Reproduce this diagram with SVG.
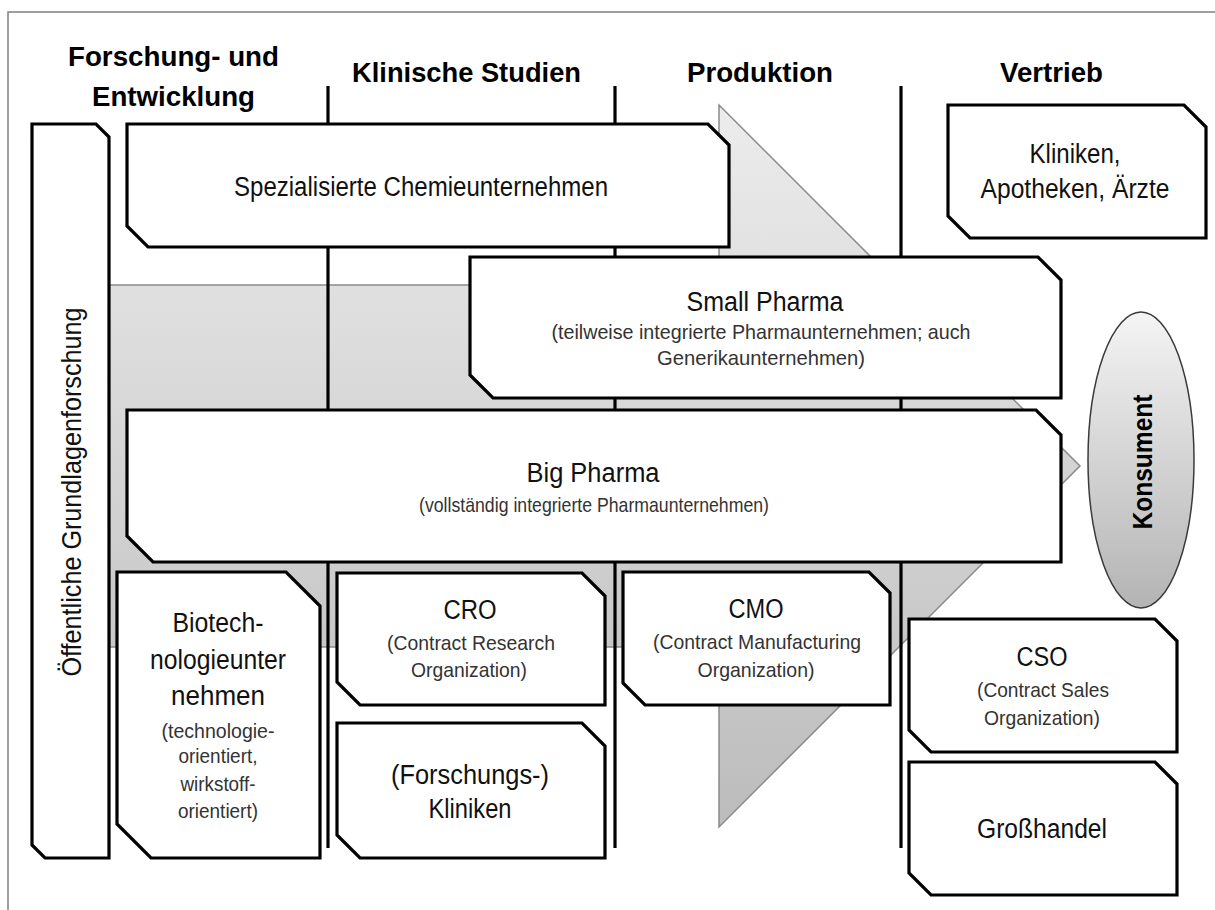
<svg xmlns="http://www.w3.org/2000/svg" width="1215" height="910" viewBox="0 0 1215 910">
<defs>
<linearGradient id="arrowGrad" gradientUnits="userSpaceOnUse" x1="0" y1="105" x2="0" y2="827">
<stop offset="0" stop-color="#ececec"/>
<stop offset="1" stop-color="#bcbcbc"/>
</linearGradient>
<linearGradient id="ellGrad" x1="0" y1="0" x2="0" y2="1">
<stop offset="0" stop-color="#f4f4f4"/>
<stop offset="1" stop-color="#b4b4b4"/>
</linearGradient>
<style>
.box{fill:#fff;stroke:#000;stroke-width:3.2;stroke-linejoin:miter}
.div{stroke:#000;stroke-width:3.2;fill:none}
.hd{font-family:"Liberation Sans",Arial,sans-serif;font-weight:bold;font-size:28px;fill:#000;text-anchor:middle}
.lb{font-family:"Liberation Sans",Arial,sans-serif;font-size:27px;fill:#111;text-anchor:middle}
.sb{font-family:"Liberation Sans",Arial,sans-serif;font-size:21px;fill:#333;text-anchor:middle}
</style>
</defs>
<rect x="0" y="0" width="1215" height="910" fill="#fff"/>
<rect x="8" y="12" width="1220" height="920" fill="none" stroke="#808080" stroke-width="1.5"/>

<g id="arrow">
<path d="M100,285 H719 V105 L1080,466 L719,827 V647 H100 Z" fill="url(#arrowGrad)" stroke="#8a8a8a" stroke-width="1.5"/>
</g>

<g id="connectors">
<line class="div" x1="328" y1="86" x2="328" y2="848"/>
<line class="div" x1="615" y1="86" x2="615" y2="848"/>
<line class="div" x1="901" y1="86" x2="901" y2="848"/>
</g>

<g id="headers">
<text class="hd" x="173.5" y="66" textLength="211" lengthAdjust="spacingAndGlyphs">Forschung- und</text>
<text class="hd" x="173.5" y="106" textLength="163" lengthAdjust="spacingAndGlyphs">Entwicklung</text>
<text class="hd" x="466.5" y="82" textLength="229" lengthAdjust="spacingAndGlyphs">Klinische Studien</text>
<text class="hd" x="760" y="82" textLength="146" lengthAdjust="spacingAndGlyphs">Produktion</text>
<text class="hd" x="1051.5" y="82" textLength="103" lengthAdjust="spacingAndGlyphs">Vertrieb</text>
</g>

<g id="oeffentliche">
<path class="box" d="M32,124 H96 L109,137 V858 H45 L32,845 Z"/>
<text class="lb" transform="translate(81,492) rotate(-90)" x="0" y="0" textLength="369" lengthAdjust="spacingAndGlyphs" style="font-size:28px">Öffentliche Grundlagenforschung</text>
</g>

<g id="spezialisierte">
<path class="box" d="M127,124 H708 L729,145 V247 H148 L127,226 Z"/>
<text class="lb" x="421" y="196" textLength="374" lengthAdjust="spacingAndGlyphs">Spezialisierte Chemieunternehmen</text>
</g>

<g id="kliniken">
<path class="box" d="M948,105 H1184 L1206,127 V238 H970 L948,216 Z"/>
<text class="lb" x="1075" y="163" textLength="91" lengthAdjust="spacingAndGlyphs">Kliniken,</text>
<text class="lb" x="1075" y="198" textLength="189" lengthAdjust="spacingAndGlyphs">Apotheken, Ärzte</text>
</g>

<g id="small-pharma">
<path class="box" d="M470,257 H1038 L1061,280 V398 H493 L470,375 Z"/>
<text class="lb" x="765" y="311" textLength="157" lengthAdjust="spacingAndGlyphs">Small Pharma</text>
<text class="sb" x="761" y="339" textLength="419" lengthAdjust="spacingAndGlyphs">(teilweise integrierte Pharmaunternehmen; auch</text>
<text class="sb" x="761" y="365" textLength="208" lengthAdjust="spacingAndGlyphs">Generikaunternehmen)</text>
</g>

<g id="big-pharma">
<path class="box" d="M127,410 H1036 L1061,435 V562 H153 L127,536 Z"/>
<text class="lb" x="593" y="482" textLength="133" lengthAdjust="spacingAndGlyphs">Big Pharma</text>
<text class="sb" x="594" y="512" textLength="350" lengthAdjust="spacingAndGlyphs">(vollständig integrierte Pharmaunternehmen)</text>
</g>

<g id="biotech">
<path class="box" d="M117,572 H286 L320,606 V858 H151 L117,824 Z"/>
<text class="lb" x="218" y="632" textLength="91" lengthAdjust="spacingAndGlyphs">Biotech-</text>
<text class="lb" x="218" y="669" textLength="136" lengthAdjust="spacingAndGlyphs">nologieunter</text>
<text class="lb" x="218" y="705" textLength="94" lengthAdjust="spacingAndGlyphs">nehmen</text>
<text class="sb" x="218" y="738" textLength="113" lengthAdjust="spacingAndGlyphs">(technologie-</text>
<text class="sb" x="218" y="763" textLength="79" lengthAdjust="spacingAndGlyphs">orientiert,</text>
<text class="sb" x="218" y="791" textLength="75" lengthAdjust="spacingAndGlyphs">wirkstoff-</text>
<text class="sb" x="218" y="818" textLength="80" lengthAdjust="spacingAndGlyphs">orientiert)</text>
</g>

<g id="cro">
<path class="box" d="M337,573 H582 L605,596 V705 H360 L337,682 Z"/>
<text class="lb" x="470" y="619" textLength="53" lengthAdjust="spacingAndGlyphs">CRO</text>
<text class="sb" x="471" y="650" textLength="168" lengthAdjust="spacingAndGlyphs">(Contract Research</text>
<text class="sb" x="469" y="677" textLength="116" lengthAdjust="spacingAndGlyphs">Organization)</text>
</g>

<g id="forschungskliniken">
<path class="box" d="M337,723 H582 L605,746 V858 H360 L337,835 Z"/>
<text class="lb" x="470" y="784" textLength="158" lengthAdjust="spacingAndGlyphs">(Forschungs-)</text>
<text class="lb" x="470" y="818" textLength="83" lengthAdjust="spacingAndGlyphs">Kliniken</text>
</g>

<g id="cmo">
<path class="box" d="M623,572 H869 L890,593 V705 H645 L623,683 Z"/>
<text class="lb" x="756" y="618" textLength="55" lengthAdjust="spacingAndGlyphs">CMO</text>
<text class="sb" x="757" y="649" textLength="208" lengthAdjust="spacingAndGlyphs">(Contract Manufacturing</text>
<text class="sb" x="756" y="677" textLength="117" lengthAdjust="spacingAndGlyphs">Organization)</text>
</g>

<g id="cso">
<path class="box" d="M909,619 H1155 L1177,641 V752 H931 L909,730 Z"/>
<text class="lb" x="1042" y="666" textLength="51" lengthAdjust="spacingAndGlyphs">CSO</text>
<text class="sb" x="1043" y="697" textLength="132" lengthAdjust="spacingAndGlyphs">(Contract Sales</text>
<text class="sb" x="1042" y="725" textLength="116" lengthAdjust="spacingAndGlyphs">Organization)</text>
</g>

<g id="grosshandel">
<path class="box" d="M909,762 H1155 L1177,784 V895 H931 L909,873 Z"/>
<text class="lb" x="1042" y="838" textLength="130" lengthAdjust="spacingAndGlyphs">Großhandel</text>
</g>

<g id="konsument">
<ellipse cx="1141" cy="460" rx="53" ry="148" fill="url(#ellGrad)" stroke="#3a3a3a" stroke-width="1.5"/>
<text class="hd" transform="translate(1152,462) rotate(-90)" x="0" y="0" textLength="135" lengthAdjust="spacingAndGlyphs" style="font-size:28px">Konsument</text>
</g>
</svg>
